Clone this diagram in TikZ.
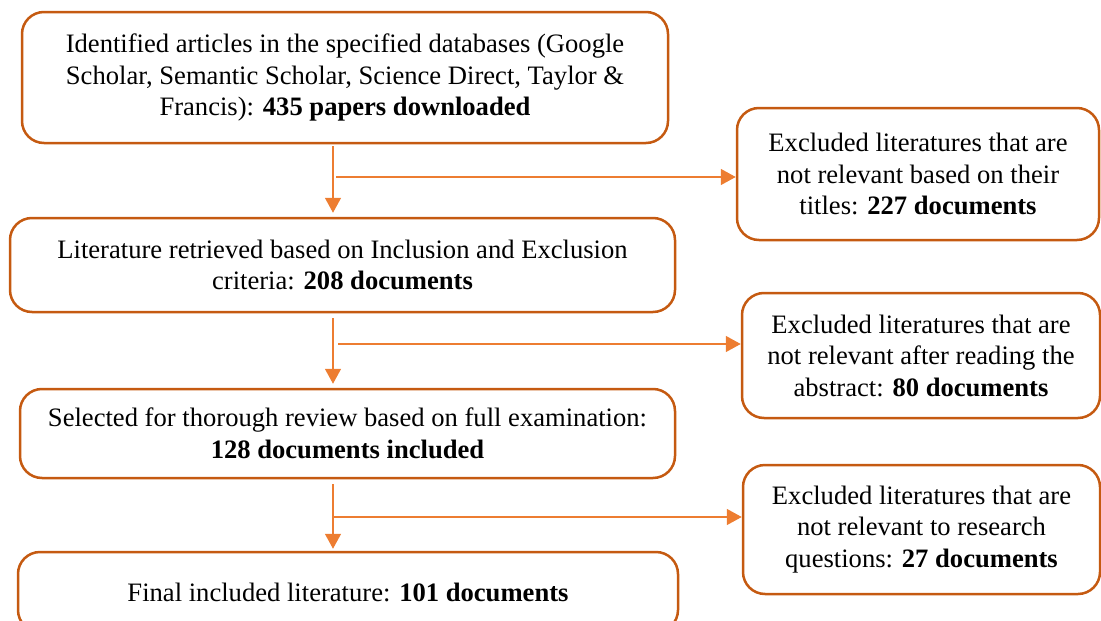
\documentclass[tikz,border=0pt]{standalone}
\usepackage{fontspec}
\setmainfont{Liberation Serif}
\usetikzlibrary{arrows.meta}
\definecolor{boxc}{HTML}{C55A11}
\definecolor{arrc}{HTML}{ED7D31}
\begin{document}
\begin{tikzpicture}[x=1pt,y=-1pt,
 box/.style={draw=boxc, line width=2.5pt, rounded corners=22pt, align=center, inner sep=0pt, font=\fontsize{26.6}{31.5}\selectfont},
 arr/.style={draw=arrc, line width=1.5pt, -{Triangle[length=15pt,width=16pt]}}]
\useasboundingbox (0,0) rectangle (1101,621);
\clip (0,0) rectangle (1101,621);
\node[box, minimum width=646pt, minimum height=131pt] (b1) at (345,77.5) {Identified articles in the specified databases (Google\\Scholar, Semantic Scholar, Science Direct, Taylor \&\\Francis): \textbf{435 papers downloaded}};
\node[box, minimum width=665pt, minimum height=94pt] (b3) at (342.5,265) {Literature retrieved based on Inclusion and Exclusion\\criteria: \textbf{208 documents}};
\node[box, minimum width=655pt, minimum height=89pt] (b4) at (347.5,433.5) {Selected for thorough review based on full examination:\\\textbf{128 documents included}};
\node[box, minimum width=660pt, minimum height=80pt] (b5) at (348,592) {Final included literature: \textbf{101 documents}};
\node[box, minimum width=362pt, minimum height=132pt] (r1) at (918,174) {Excluded literatures that are\\not relevant based on their\\titles: \textbf{227 documents}};
\node[box, minimum width=358pt, minimum height=125pt] (r2) at (921,355.5) {Excluded literatures that are\\not relevant after reading the\\abstract: \textbf{80 documents}};
\node[box, minimum width=357pt, minimum height=129pt] (r3) at (921.5,529.5) {Excluded literatures that are\\not relevant to research\\questions: \textbf{27 documents}};
\coordinate (c) at (333,0);
\coordinate (j1) at (336,177);
\coordinate (j2) at (338,344);
\coordinate (j3) at (332,517);
\draw[arr, shorten <=2pt, shorten >=4pt] (b1.south -| c) -- (b3.north -| c);
\draw[arr, shorten <=5pt, shorten >=4pt] (b3.south -| c) -- (b4.north -| c);
\draw[arr, shorten <=5pt, shorten >=2pt] (b4.south -| c) -- (b5.north -| c);
\draw[arr] (j1) -- (r1.west |- j1);
\draw[arr] (j2) -- (r2.west |- j2);
\draw[arr] (j3) -- (r3.west |- j3);
\end{tikzpicture}
\end{document}
